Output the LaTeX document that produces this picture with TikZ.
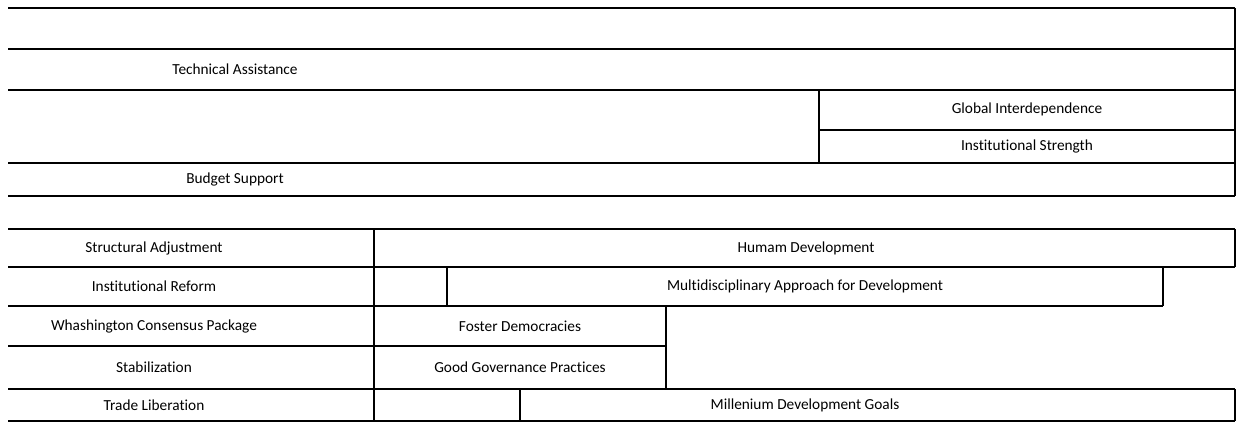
\documentclass[tikz,border=0pt]{standalone}
\usepackage{fontspec}
\setmainfont{Carlito}[Ligatures=NoCommon]
\tikzset{
  cell/.style={inner sep=0pt, font=\fontsize{11.5}{13}\selectfont},
  rule/.style={line width=1.5pt}
}
\begin{document}
\begin{tikzpicture}[x=0.75pt,y=-0.75pt]
      \useasboundingbox (0,0) rectangle (1236,422);
      % upper table
      \draw[rule]
        (8,8) -- (1235,8)
        (8,49) -- (1235,49)
        (8,89.5) -- (1235,89.5)
        (819,129.5) -- (1235,129.5)
        (8,163) -- (1235,163)
        (8,195.5) -- (1235,195.5)
        (1235,8) -- (1235,195.5)
        (819,89.5) -- (819,163);
      \node[cell] (ta) at (235,69) {Technical Assistance};
      \node[cell] (gi) at (1027,109.5) {Global Interdependence};
      \node[cell] (is) at (1027,146.5) {Institutional Strength};
      \node[cell] (bs) at (235,179.5) {Budget Support};
      % lower table
      \draw[rule]
        (8,229) -- (1235,229)
        (8,267) -- (1235,267)
        (8,306) -- (1163,306)
        (8,346) -- (666,346)
        (8,389) -- (1235,389)
        (8,421) -- (1235,421)
        (373.5,229) -- (373.5,421)
        (447,267) -- (447,306)
        (1163,267) -- (1163,306)
        (666,306) -- (666,389)
        (520,389) -- (520,421)
        (1235,229) -- (1235,267)
        (1235,389) -- (1235,421);
      \node[cell] (sa) at (154,248) {Structural Adjustment};
      \node[cell] (ir) at (154,286.5) {Institutional Reform};
      \node[cell] (wcp) at (154,326) {Whashington Consensus Package};
      \node[cell] (stab) at (154,367.5) {Stabilization};
      \node[cell] (tl) at (154,405) {Trade Liberation};
      \node[cell] (hd) at (806,248) {Humam Development};
      \node[cell] (mad) at (805,286.5) {Multidisciplinary Approach for Development};
      \node[cell] (fd) at (520,326) {Foster Democracies};
      \node[cell] (ggp) at (520,367.5) {Good Governance Practices};
      \node[cell] (mdg) at (805,405) {Millenium Development Goals};
    \end{tikzpicture}
\end{document}
